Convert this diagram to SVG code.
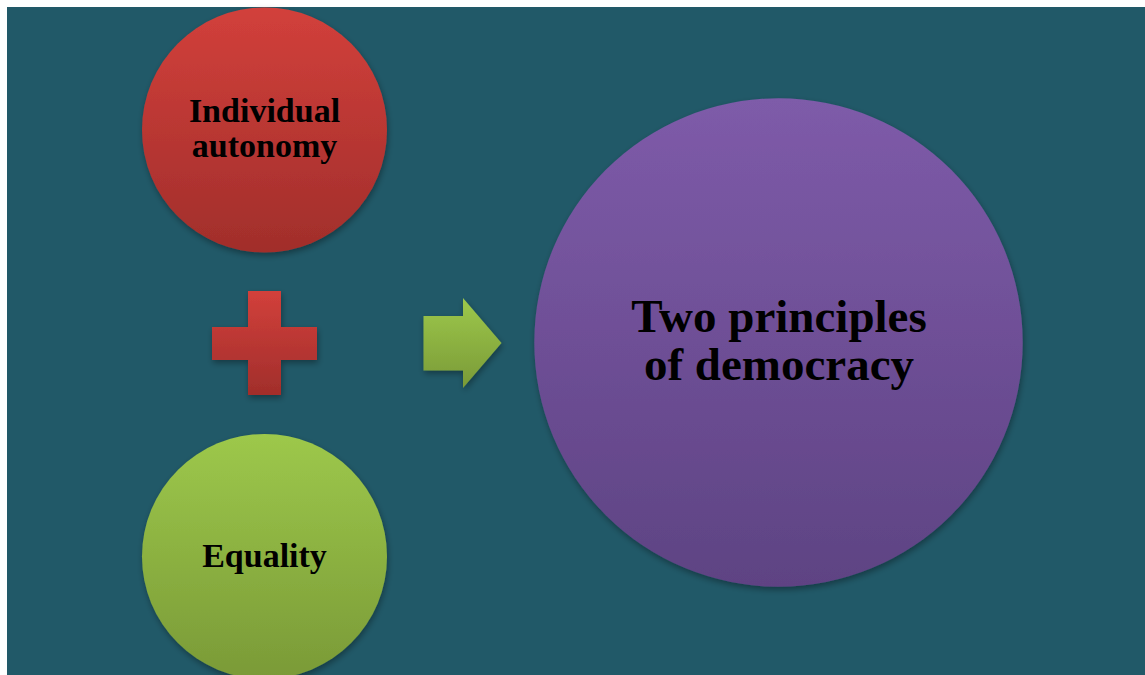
<svg xmlns="http://www.w3.org/2000/svg" width="1145" height="675" viewBox="0 0 1145 675">
  <style>
    .lbl { font-family: "Liberation Serif", "Times New Roman", serif; font-weight: bold; fill: #000; text-anchor: middle; }
    .s { font-size: 34px; }
    .b { font-size: 47px; }
  </style>
  <defs>
    <linearGradient id="gRed" x1="0" y1="0" x2="0" y2="1">
      <stop offset="0" stop-color="#D2403B"/>
      <stop offset="1" stop-color="#A12E2B"/>
    </linearGradient>
    <linearGradient id="gGreen" x1="0" y1="0" x2="0" y2="1">
      <stop offset="0" stop-color="#9DC84B"/>
      <stop offset="1" stop-color="#7A9A37"/>
    </linearGradient>
    <linearGradient id="gPurple" x1="0" y1="0" x2="0" y2="1">
      <stop offset="0" stop-color="#7E5BA9"/>
      <stop offset="1" stop-color="#5E4383"/>
    </linearGradient>
    <filter id="sh" x="-20%" y="-20%" width="140%" height="140%">
      <feDropShadow dx="1" dy="3" stdDeviation="3" flood-color="#000" flood-opacity="0.35"/>
    </filter>
  </defs>
  <rect x="0" y="0" width="1145" height="675" fill="#ffffff"/>
  <rect x="7" y="7" width="1138" height="668" fill="#215968"/>

  <g id="node-autonomy">
    <circle cx="264.5" cy="130" r="122.5" fill="url(#gRed)" filter="url(#sh)"/>
    <text class="lbl s" x="264.5" y="122">Individual</text>
    <text class="lbl s" x="264.5" y="157">autonomy</text>
  </g>

  <g id="node-equality">
    <circle cx="264.5" cy="556.5" r="122.5" fill="url(#gGreen)" filter="url(#sh)"/>
    <text class="lbl s" x="264.5" y="567">Equality</text>
  </g>

  <g id="node-principles">
    <circle cx="778.5" cy="342.5" r="244.2" fill="url(#gPurple)" filter="url(#sh)"/>
    <text class="lbl b" x="779" y="332">Two principles</text>
    <text class="lbl b" x="779" y="380">of democracy</text>
  </g>

  <g id="connectors">
    <path id="plus" d="M248,291 H281 V327 H317 V360 H281 V395 H248 V360 H212 V327 H248 Z" fill="url(#gRed)" filter="url(#sh)"/>
    <path id="arrow" d="M423.5,316 H463 V298 L501.5,343 L463,388 V370.5 H423.5 Z" fill="url(#gGreen)" filter="url(#sh)"/>
  </g>
</svg>
